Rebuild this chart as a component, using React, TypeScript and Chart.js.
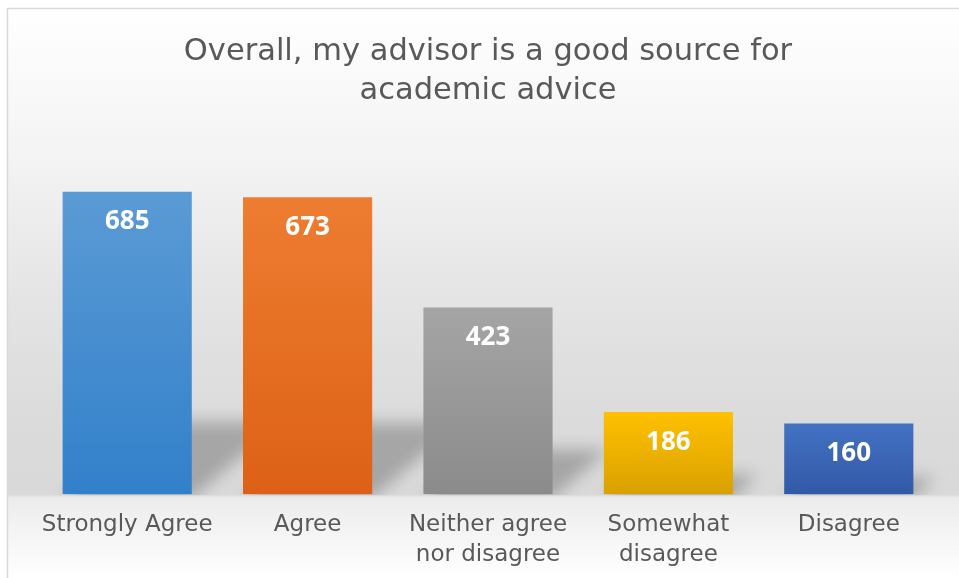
import React, { useEffect, useRef } from "react";
import { Chart, registerables } from "chart.js";

Chart.register(...registerables);

const categories: (string | string[])[] = [
  "Strongly Agree",
  "Agree",
  ["Neither agree", "nor disagree"],
  ["Somewhat", "disagree"],
  "Disagree",
];
const responses: number[] = [685, 673, 423, 186, 160];
const titleLines: string[] = ["Overall, my advisor is a good source for", "academic advice"];
const barTopColors: string[] = ["#5b9bd5", "#ee7d31", "#a5a5a5", "#ffc000", "#4472c4"];
const barBottomColors: string[] = ["#3280ca", "#dc6116", "#8b8b8b", "#d9a100", "#3259a5"];

const FONT = "'DejaVu Sans', sans-serif";

const backgroundPlugin = {
  id: "bgPlugin",
  beforeDraw(chart: any) {
    const { ctx, width, height } = chart;
    const b = chart.chartArea ? chart.chartArea.bottom : 494;
    ctx.save();
    const g = ctx.createLinearGradient(0, 0, 0, height);
    const s = (y: number) => Math.min(1, Math.max(0, y / height));
    g.addColorStop(s(8), "#ffffff");
    g.addColorStop(s(150), "#f4f4f4");
    g.addColorStop(s(300), "#e4e4e4");
    g.addColorStop(s(420), "#dbdbdb");
    g.addColorStop(s(b), "#d9d9d9");
    g.addColorStop(s(b + 4), "#ececec");
    g.addColorStop(s(540), "#f6f6f6");
    g.addColorStop(1, "#ffffff");
    ctx.fillStyle = "#ffffff";
    ctx.fillRect(0, 0, width, height);
    ctx.fillStyle = g;
    ctx.fillRect(7, 8, width - 7, height - 8);
    ctx.strokeStyle = "#d9d9d9";
    ctx.lineWidth = 1.5;
    ctx.beginPath();
    ctx.moveTo(7.5, height);
    ctx.lineTo(7.5, 8.5);
    ctx.lineTo(width, 8.5);
    ctx.stroke();
    ctx.restore();
  },
};

const shadowPlugin = {
  id: "shadowPlugin",
  beforeDatasetsDraw(chart: any) {
    const { ctx } = chart;
    const meta = chart.getDatasetMeta(0);
    ctx.save();
    ctx.beginPath();
    ctx.rect(0, 0, chart.width, chart.chartArea.bottom + 1);
    ctx.clip();
    ctx.filter = "blur(8px)";
    ctx.fillStyle = "rgba(0,0,0,0.24)";
    meta.data.forEach((bar: any) => {
      const L = bar.x - bar.width / 2;
      const R = bar.x + bar.width / 2;
      const h = bar.base - bar.y;
      const sh = 0.24 * h;
      const sx = 1.25 * sh;
      ctx.beginPath();
      ctx.moveTo(L, bar.base + 4);
      ctx.lineTo(R, bar.base + 4);
      ctx.lineTo(R + sx, bar.base - sh);
      ctx.lineTo(L + sx, bar.base - sh);
      ctx.closePath();
      ctx.fill();
    });
    ctx.restore();
  },
};

const labelPlugin = {
  id: "labelPlugin",
  afterDatasetsDraw(chart: any) {
    const { ctx } = chart;
    const meta = chart.getDatasetMeta(0);
    ctx.save();
    ctx.fillStyle = "#ffffff";
    ctx.font = "bold 26px 'Open Sans', sans-serif";
    ctx.textAlign = "center";
    ctx.textBaseline = "middle";
    meta.data.forEach((bar: any, i: number) => {
      ctx.fillText(String(responses[i]), bar.x, bar.y + 30);
    });
    ctx.restore();
  },
};

export default function App() {
  const ref = useRef<HTMLCanvasElement | null>(null);
  useEffect(() => {
    document.body.style.margin = "0";
    if (!ref.current) return;
    const chart = new Chart(ref.current, {
      type: "bar",
      data: {
        labels: categories,
        datasets: [
          {
            data: responses,
            backgroundColor: (c: any) => {
              const ch = c.chart;
              const i = c.dataIndex;
              const ys = ch.scales && ch.scales.y;
              if (!ys || i === undefined) return barTopColors[i ?? 0];
              const top = ys.getPixelForValue(responses[i]);
              const bottom = ys.getPixelForValue(0);
              if (!isFinite(top) || !isFinite(bottom) || top === bottom) return barTopColors[i];
              const g = ch.ctx.createLinearGradient(0, top, 0, bottom);
              g.addColorStop(0, barTopColors[i]);
              g.addColorStop(1, barBottomColors[i]);
              return g;
            },
            borderWidth: 0,
            categoryPercentage: 1,
            barPercentage: 0.716,
          },
        ],
      },
      options: {
        animation: false,
        responsive: false,
        layout: { padding: { top: 8, left: 37, right: 20, bottom: -8 } },
        plugins: {
          legend: { display: false },
          tooltip: { enabled: false },
          title: {
            display: true,
            text: titleLines,
            color: "#595959",
            font: { family: FONT, size: 30.5, weight: "normal", lineHeight: 1.28 },
            padding: { top: 25, bottom: 30 },
          },
        },
        scales: {
          x: {
            grid: { display: false, drawTicks: false },
            border: { display: false },
            ticks: {
              color: "#595959",
              font: { family: FONT, size: 23, lineHeight: 1.3 },
              padding: 16,
              maxRotation: 0,
              autoSkip: false,
            },
          },
          y: {
            display: false,
            min: 0,
            max: 800,
          },
        },
      },
      plugins: [backgroundPlugin, shadowPlugin, labelPlugin],
    });
    return () => chart.destroy();
  }, []);
  return (
    <div style={{ position: "absolute", left: 0, top: 0, width: 959, height: 578 }}>
      <canvas ref={ref} width={959} height={578} style={{ width: 959, height: 578, display: "block" }} />
    </div>
  );
}
